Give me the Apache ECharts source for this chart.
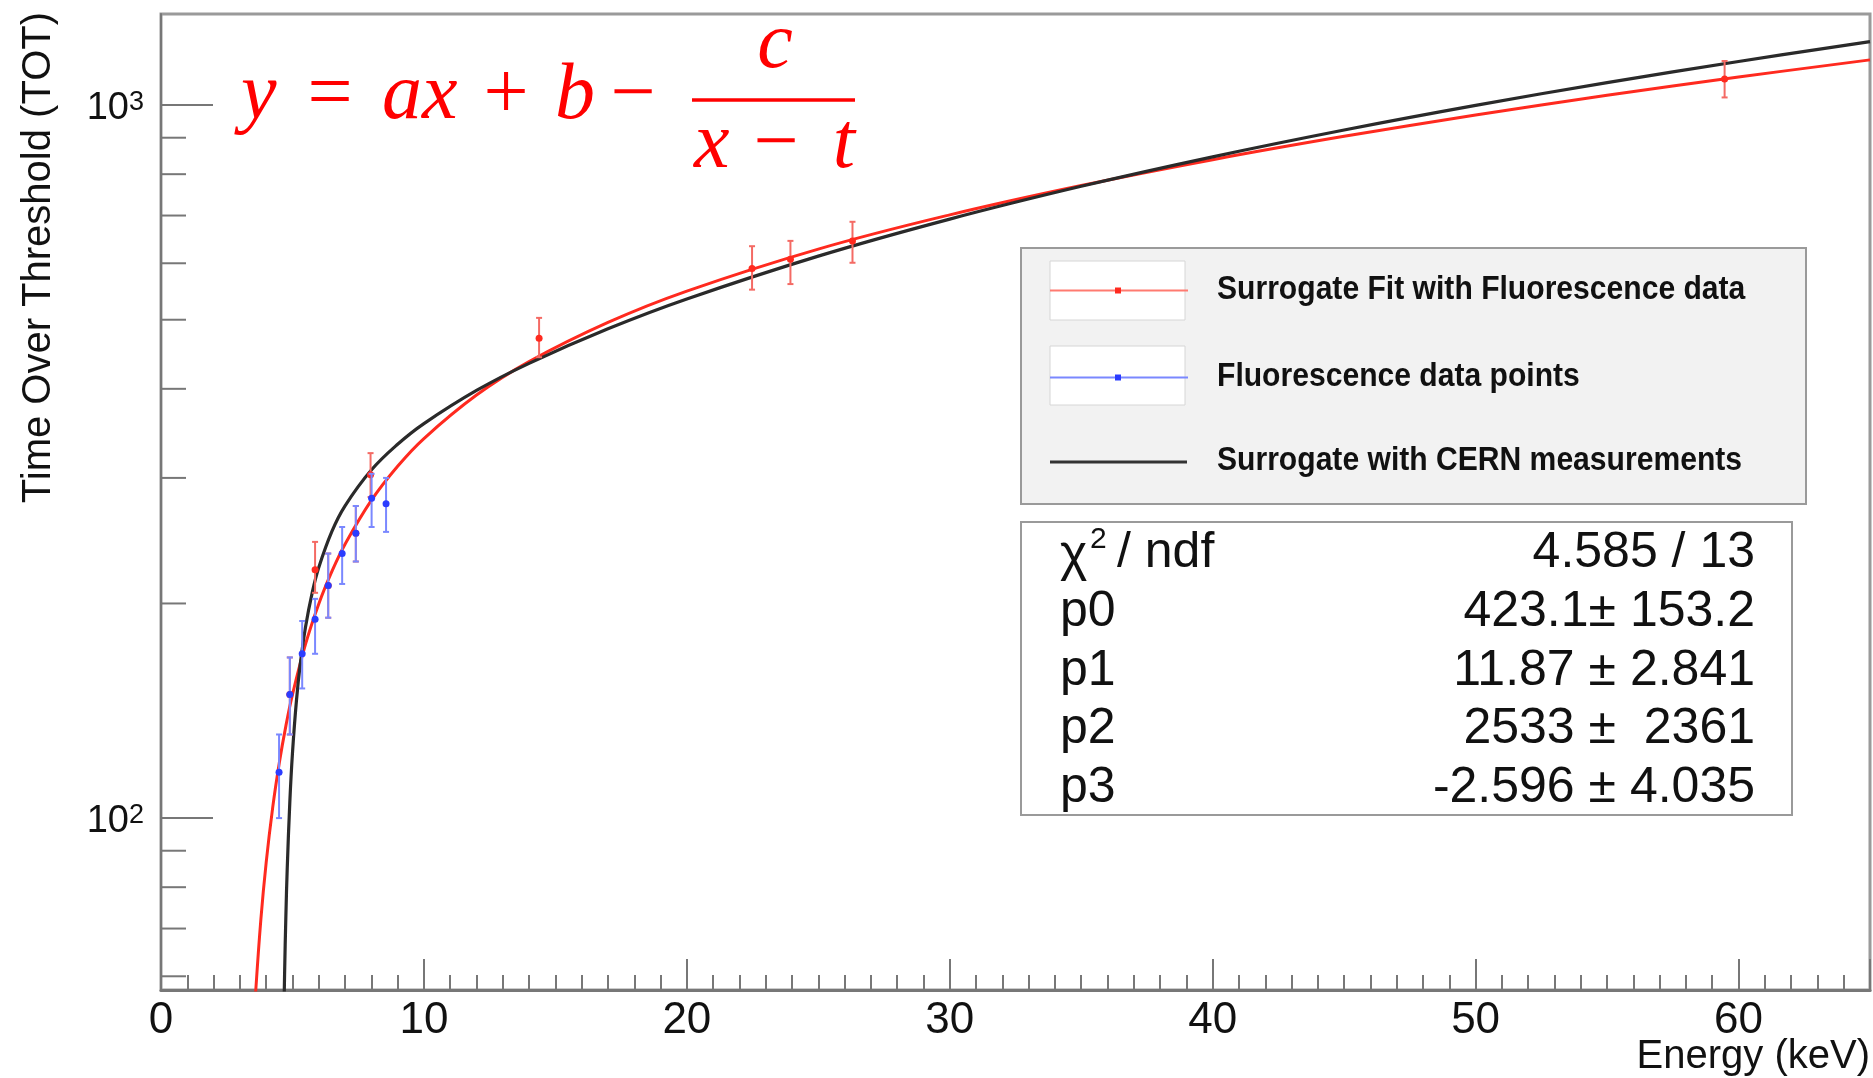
<!DOCTYPE html>
<html>
<head>
<meta charset="utf-8">
<title>TOT vs Energy</title>
<script src="https://cdn.jsdelivr.net/npm/echarts@6.0.0/dist/echarts.min.js"></script>
<style>
  html, body { margin: 0; padding: 0; background: #fff; }
  #main { width: 1873px; height: 1078px; }
</style>
</head>
<body>
<div id="main"></div>
<script>
// values: energy (keV) -> TOT
var redCurveX = [3.5, 3.6, 3.8, 4.0, 4.25, 4.5, 4.75, 5, 5.5, 6, 6.5, 7, 8, 9, 10, 12, 14, 17, 20, 25, 30, 35, 40, 45, 50, 55, 60, 65];
var redCurveY = [49.1, 57.0, 72.2, 86.6, 103.6, 119.6, 134.7, 149.0, 175.5, 199.7, 221.8, 242.2, 279.0, 311.5, 340.7, 392.0, 436.7, 495.6, 548.4, 628.1, 701.5, 771.2, 838.4, 904.0, 968.4, 1032.0, 1094.8, 1157.2];

var blackCurveX = [4.66, 4.7, 4.75, 4.8, 4.9, 5.0, 5.15, 5.3, 5.5, 5.75, 6.0, 6.5, 7, 8, 9, 10, 12, 14, 17, 20, 25, 30, 35, 40, 45, 50, 55, 60, 65];
var blackCurveY = [49.2, 60.3, 73.0, 84.7, 105.4, 123.3, 145.9, 164.8, 185.7, 207.0, 224.6, 252.4, 274.1, 307.7, 334.4, 357.5, 397.9, 434.3, 485.5, 534.6, 614.0, 692.0, 769.3, 846.1, 922.6, 998.9, 1075.1, 1151.2, 1227.2];

// points with error bars (x, y, low, high)
var redPtX  = [4.90, 5.86, 6.36, 7.41, 7.97, 14.38, 22.48, 23.94, 26.30, 59.47];
var redPtY  = [149, 223, 212, 251, 303, 471, 590, 608, 645, 1088];
var redPtLo = [131, 207, 191, 229, 282, 443, 551, 561, 601, 1025];
var redPtHi = [168, 244, 235, 274, 325, 503, 634, 645, 686, 1153];

var bluePtX  = [4.49, 4.90, 5.37, 5.86, 6.36, 6.89, 7.41, 8.01, 8.56];
var bluePtY  = [116, 149, 170, 190, 212, 235, 251, 281, 276];
var bluePtLo = [100, 131, 152, 170, 191, 213, 229, 256, 252];
var bluePtHi = [131, 168, 189, 203, 235, 256, 274, 304, 300];

var yMajorTicks = [100, 1000];
var yMinorTicks = [60, 70, 80, 90, 200, 300, 400, 500, 600, 700, 800, 900];

var legendNames = ['Surrogate Fit with Fluorescence data', 'Fluorescence data points', 'Surrogate with CERN measurements'];
var statNames = ['p0', 'p1', 'p2', 'p3'];
var statValues = ['4.585 / 13', '423.1\u00b1 153.2', '11.87 \u00b1 2.841', '2533 \u00b1  2361', '-2.596 \u00b1 4.035'];

var sans = "'Liberation Sans', Arial, sans-serif";
var serif = "'Liberation Serif', 'DejaVu Serif', serif";

function zip(a, b) {
  return a.map(function (v, i) { return [v, b[i]]; });
}

function errorBars(xs, ys, lo, hi, barColor, dotColor) {
  var data = xs.map(function (x, i) { return [x, ys[i], lo[i], hi[i]]; });
  return {
    type: 'custom',
    silent: true,
    z: 6,
    encode: { x: 0, y: [1, 2, 3] },
    data: data,
    renderItem: function (params, api) {
      var x = api.value(0);
      var c = api.coord([x, api.value(1)]);
      var l = api.coord([x, api.value(2)]);
      var h = api.coord([x, api.value(3)]);
      var st = { stroke: barColor, lineWidth: 2 };
      return {
        type: 'group',
        children: [
          { type: 'line', shape: { x1: c[0], y1: l[1], x2: c[0], y2: h[1] }, style: st },
          { type: 'line', shape: { x1: c[0] - 3, y1: l[1], x2: c[0] + 3, y2: l[1] }, style: st },
          { type: 'line', shape: { x1: c[0] - 3, y1: h[1], x2: c[0] + 3, y2: h[1] }, style: st },
          { type: 'circle', shape: { cx: c[0], cy: c[1], r: 3.5 }, style: { fill: dotColor } }
        ]
      };
    }
  };
}

function yTicks(vals, len) {
  return {
    type: 'custom',
    silent: true,
    z: 4,
    data: vals.map(function (v) { return [0, v]; }),
    renderItem: function (params, api) {
      var p = api.coord([api.value(0), api.value(1)]);
      return {
        type: 'line',
        shape: { x1: p[0], y1: p[1], x2: p[0] + len, y2: p[1] },
        style: { stroke: '#777', lineWidth: 2 }
      };
    }
  };
}

function mathText(str, x, y, align, italic) {
  return {
    type: 'text', x: x, y: y, z: 20,
    style: {
      text: str, fill: '#ff0000', fontSize: 80, fontFamily: serif,
      fontStyle: italic ? 'italic' : 'normal', align: align, verticalAlign: 'middle'
    }
  };
}

var graphics = [
  // formula
  mathText('y', 241, 97, 'left', true),
  mathText('=', 330, 97, 'center', false),
  mathText('ax', 382, 97, 'left', true),
  mathText('+', 506, 97, 'center', false),
  mathText('b', 555, 97, 'left', true),
  mathText('\u2212', 633, 97, 'center', false),
  { type: 'line', z: 20, shape: { x1: 692, y1: 100, x2: 855, y2: 100 }, style: { stroke: '#ff0000', lineWidth: 3.5 } },
  mathText('c', 775, 46, 'center', true),
  mathText('x', 694, 146, 'left', true),
  mathText('\u2212', 776, 146, 'center', false),
  mathText('t', 855, 146, 'right', true),

  // axis titles
  {
    type: 'text', x: 39, y: 12, rotation: Math.PI / 2,
    style: { text: 'Time Over Threshold (TOT)', fill: '#111', fontSize: 40, fontFamily: sans, align: 'right', verticalAlign: 'middle' }
  },
  {
    type: 'text', x: 1870, y: 1057,
    style: { text: 'Energy (keV)', fill: '#111', fontSize: 40, fontFamily: sans, align: 'right', verticalAlign: 'middle' }
  },

  // legend
  { type: 'rect', z: 10, shape: { x: 1021, y: 248, width: 785, height: 256 }, style: { fill: '#f2f2f2', stroke: '#9a9a9a', lineWidth: 2 } },
  { type: 'rect', z: 11, shape: { x: 1050, y: 261, width: 135, height: 59 }, style: { fill: '#fff', stroke: '#d6d6d6', lineWidth: 1 } },
  { type: 'rect', z: 11, shape: { x: 1050, y: 346, width: 135, height: 59 }, style: { fill: '#fff', stroke: '#d6d6d6', lineWidth: 1 } },
  { type: 'line', z: 12, shape: { x1: 1050, y1: 290.5, x2: 1188, y2: 290.5 }, style: { stroke: '#ff7a70', lineWidth: 2 } },
  { type: 'rect', z: 12, shape: { x: 1115, y: 287.5, width: 6, height: 6 }, style: { fill: '#ff2a1f' } },
  { type: 'line', z: 12, shape: { x1: 1050, y1: 377.5, x2: 1188, y2: 377.5 }, style: { stroke: '#7a88ff', lineWidth: 2 } },
  { type: 'rect', z: 12, shape: { x: 1115, y: 374.5, width: 6, height: 6 }, style: { fill: '#2b3cff' } },
  { type: 'line', z: 12, shape: { x1: 1050, y1: 462, x2: 1187, y2: 462 }, style: { stroke: '#333', lineWidth: 3 } },

  // stats box
  { type: 'rect', z: 10, shape: { x: 1021, y: 522, width: 771, height: 293 }, style: { fill: '#fff', stroke: '#9a9a9a', lineWidth: 2 } },
  { type: 'text', z: 12, x: 1060, y: 556, style: { text: '\u03c7', fill: '#111', fontSize: 52, fontFamily: sans, verticalAlign: 'middle' } },
  { type: 'text', z: 12, x: 1090, y: 540, style: { text: '2', fill: '#111', fontSize: 30, fontFamily: sans, verticalAlign: 'middle' } },
  { type: 'text', z: 12, x: 1117, y: 553, style: { text: '/ ndf', fill: '#111', fontSize: 50, fontFamily: sans, verticalAlign: 'middle' } }
];

var legendRowsY = [290, 377, 461];
legendNames.forEach(function (name, i) {
  graphics.push({
    type: 'text', z: 12, x: 1217, y: legendRowsY[i], scaleX: 0.885,
    style: { text: name, fill: '#111', fontSize: 34, fontWeight: 'bold', fontFamily: sans, verticalAlign: 'middle' }
  });
});

var statRowsY = [553, 612, 671, 729, 788];
statNames.forEach(function (name, i) {
  graphics.push({
    type: 'text', z: 12, x: 1060, y: statRowsY[i + 1],
    style: { text: name, fill: '#111', fontSize: 50, fontFamily: sans, verticalAlign: 'middle' }
  });
});
statValues.forEach(function (val, i) {
  graphics.push({
    type: 'text', z: 12, x: 1755, y: statRowsY[i],
    style: { text: val, fill: '#111', fontSize: 50, fontFamily: sans, align: 'right', verticalAlign: 'middle' }
  });
});

var chart = echarts.init(document.getElementById('main'));

var option = {
  animation: false,
  backgroundColor: '#fff',
  grid: {
    left: 161, top: 14, right: 2, bottom: 88,
    show: true, borderColor: '#9a9a9a', borderWidth: 3, backgroundColor: '#fff'
  },
  xAxis: [
    {
      type: 'value', min: 0, max: 65, interval: 1,
      axisLine: { show: true, lineStyle: { color: '#777', width: 3 } },
      axisTick: { inside: true, length: 15, lineStyle: { color: '#777', width: 2 } },
      axisLabel: { show: false },
      splitLine: { show: false }
    },
    {
      type: 'value', min: 0, max: 65, interval: 10, position: 'bottom',
      axisLine: { show: false },
      axisTick: { inside: true, length: 31, lineStyle: { color: '#777', width: 2 } },
      axisLabel: {
        fontSize: 44, color: '#111', margin: 9, fontFamily: sans,
        formatter: function (v) { return v % 10 === 0 ? String(v) : ''; }
      },
      splitLine: { show: false }
    }
  ],
  yAxis: {
    type: 'log', logBase: 10, min: 57.4, max: 1342,
    axisLine: { show: true, lineStyle: { color: '#777', width: 2 } },
    axisTick: { show: false },
    splitLine: { show: false },
    axisLabel: {
      margin: 17,
      padding: [6, 0, 0, 0],
      formatter: function (v) {
        var e = Math.log(v) / Math.LN10;
        if (Math.abs(e - Math.round(e)) > 1e-6) return '';
        if (Math.round(e) === 2) return '{b|10}{s|2}';
        if (Math.round(e) === 3) return '{b|10}{s|3}';
        return '';
      },
      rich: {
        b: { fontSize: 38, fontFamily: sans, color: '#111' },
        s: { fontSize: 27, fontFamily: sans, color: '#111', verticalAlign: 'top' }
      }
    }
  },
  series: [
    {
      type: 'line', name: legendNames[0], data: zip(redCurveX, redCurveY),
      showSymbol: false, smooth: 0.4, z: 2,
      lineStyle: { color: '#ff2a1f', width: 3 }
    },
    {
      type: 'line', name: legendNames[2], data: zip(blackCurveX, blackCurveY),
      showSymbol: false, smooth: 0.4, z: 3,
      lineStyle: { color: '#2a2a2a', width: 3.2 }
    },
    errorBars(redPtX, redPtY, redPtLo, redPtHi, '#f46a64', '#ff2a1f'),
    errorBars(bluePtX, bluePtY, bluePtLo, bluePtHi, '#7a88ff', '#2b3cff'),
    yTicks(yMajorTicks, 52),
    yTicks(yMinorTicks, 25)
  ],
  graphic: graphics
};

chart.setOption(option);
</script>
</body>
</html>
